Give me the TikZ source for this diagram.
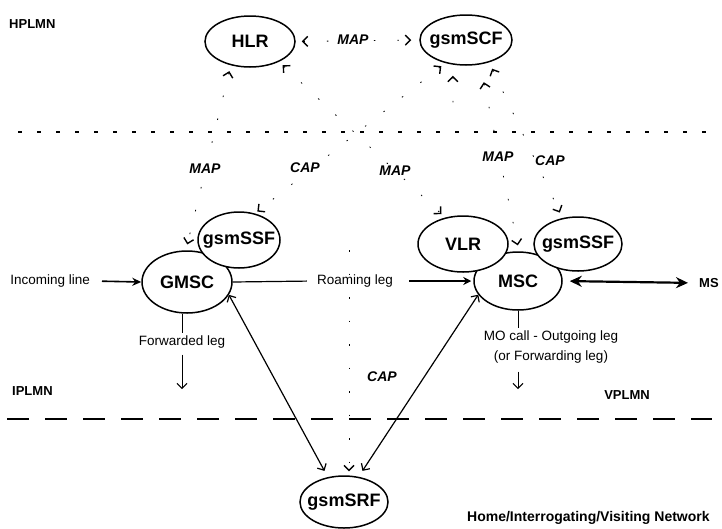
\documentclass[tikz,border=0pt]{standalone}
\usepackage{fontspec}
\setmainfont{Liberation Sans}
\usetikzlibrary{positioning,arrows.meta,shapes.geometric}

\newcommand{\ename}[1]{\makebox[0pt]{#1}}

\begin{document}
\begin{tikzpicture}[x=1pt, y=-1pt,
		>={Straight Barb[length=5pt, width=10pt]},
		entity/.style={ellipse, draw, line width=1.5pt, fill=white, inner sep=0pt, font=\fontsize{18}{20}\selectfont\bfseries},
		prot/.style={font=\fontsize{14}{16}\selectfont\bfseries\itshape, fill=white, inner sep=1pt},
		plmn/.style={font=\fontsize{13}{15}\selectfont\bfseries, inner sep=0pt},
		leg/.style={font=\fontsize{13.5}{20}\selectfont, inner sep=3pt},
		link/.style={line width=0.8pt, dash pattern=on 1.5pt off 22pt, >={Straight Barb[length=5pt, width=10pt, line width=1.4pt]}},
		call/.style={line width=1.2pt}
	]
	
	\useasboundingbox (0,0) rectangle (722,528);
	
	\draw[line width=1.5pt, dash pattern=on 4pt off 15pt] (18,132) -- (712,132);
	\draw[line width=1.8pt, dash pattern=on 22pt off 16pt] (7,419) -- (712,419);
	
	\node[plmn, anchor=west] (hplmn) at (9,24) {HPLMN};
	\node[plmn, anchor=west] (iplmn) at (12,391) {IPLMN};
	\node[plmn] (vplmn) at (627,395) {VPLMN};
	\node[plmn, anchor=base west, font=\fontsize{14}{16}\selectfont\bfseries] (home) at (467,521) {Home/Interrogating/Visiting Network};
	
	\node[entity, minimum width=90pt, minimum height=51pt] (hlr) at (250,41.5) {\ename{HLR}};
	\node[entity, minimum width=92pt, minimum height=50pt] (scf) at (466,40) {\ename{gsmSCF}};
	\node[entity, minimum width=90pt, minimum height=62pt] (gmsc) at (187,282) {\ename{GMSC}};
	\node[entity, minimum width=82pt, minimum height=56pt] (ssf1) at (239,240) {\ename{gsmSSF}};
	\node[entity, minimum width=88pt, minimum height=58pt] (msc) at (518,281) {\ename{MSC}};
	\node[entity, minimum width=90pt, minimum height=56pt] (vlr) at (463,244) {\ename{VLR}};
	\node[entity, minimum width=88pt, minimum height=54pt] (ssf2) at (578,244) {\ename{gsmSSF}};
	\node[entity, minimum width=88pt, minimum height=52pt] (srf) at (344,502) {\ename{gsmSRF}};
	
	\node[leg, anchor=east] (inc) at (93,281) {Incoming line};
	\node[leg] (roam) at (355,281) {Roaming leg};
	\node[leg] (fwd) at (182,342) {Forwarded leg};
	\node[leg, align=center] (mo) at (551,347) {MO call - Outgoing leg\\(or Forwarding leg)};
	\node[anchor=west, inner sep=1pt, font=\fontsize{13}{15}\selectfont\bfseries] (ms) at (698,283) {MS};
	
	\coordinate (stub) at (453,118);
	\coordinate (captop) at (349,250);
	\coordinate (fwdend) at (182,389);
	\coordinate (moend) at (518,389);
	
	\draw[link, <->, shorten <=6pt, shorten >=8pt] (hlr.east) -- (scf.west);
	\draw[link, <->, shorten <=6pt, shorten >=6pt] (hlr.231) -- (gmsc.92);
	\draw[link, <->, shorten <=5pt, shorten >=5pt] (hlr.325) -- (vlr.124);
	\draw[link, <->, shorten <=5pt, shorten >=3pt] (scf.228) -- (ssf1.59);
	\draw[link, <->, shorten <=18pt, shorten >=6pt] (scf.300) -- (msc.88);
	\draw[link, <->, shorten <=7pt, shorten >=6pt] (scf.316) -- (ssf2.121);
	\draw[link, <-, shorten <=11pt] (scf.242) -- (stub);
	\draw[link, ->, shorten >=4pt] (captop) -- (captop |- srf.north);
	
	\draw[call, <->, shorten >=7pt] (gmsc.343) -- (srf.123);
	\draw[call, <->, shorten >=7pt] (msc.199) -- (srf.60);
	
	\draw[line width=1.6pt, -{Stealth[length=9pt, width=8pt]}, shorten <=9pt] (inc.east) -- (gmsc.west);
	\draw[call, shorten >=7pt] (gmsc.east) -- (roam.west);
	\draw[call, -{Stealth[length=8pt, width=8pt]}, shorten <=13pt, shorten >=2pt] (roam.east) -- (msc.west);
	\draw[line width=1pt] (fwd.north) -- (fwd.north |- gmsc.south);
	\draw[line width=1pt, ->, shorten <=3pt] (fwd.south) -- (fwdend);
	\draw[line width=1pt] (mo.north -| msc.south) -- (msc.south);
	\draw[line width=1pt, ->, shorten <=5pt] (mo.south -| msc.south) -- (moend);
	\draw[line width=2.2pt, {Stealth[length=12pt, width=11pt]}-{Stealth[length=12pt, width=11pt]}, shorten <=7pt, shorten >=10pt] (msc.east) -- (ms.west);
	
	\node[prot] (map1) at (353,40) {MAP};
	\node[prot] (map2) at (205,169) {MAP};
	\node[prot] (cap1) at (305,168) {CAP};
	\node[prot] (map3) at (395,171) {MAP};
	\node[prot] (map4) at (498,157) {MAP};
	\node[prot] (cap2) at (550,161) {CAP};
	\node[prot] (cap3) at (382,377) {CAP};
	
\end{tikzpicture}
\end{document}
